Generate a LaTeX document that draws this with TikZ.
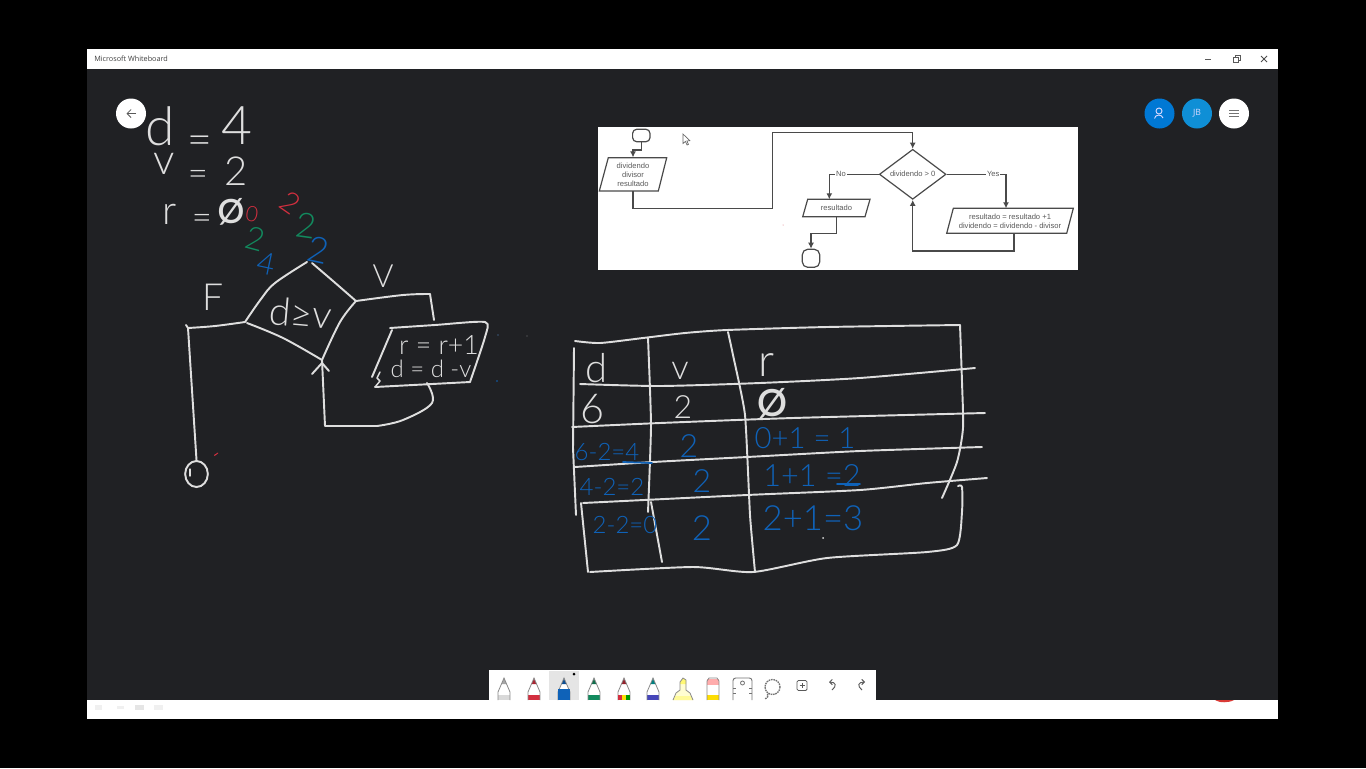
\documentclass[tikz,border=0pt]{standalone}
\usepackage{fontspec}
\setmainfont{Liberation Sans}
\newfontfamily\handfont{Lato Light}
\newfontfamily\uifont{Open Sans}
\usetikzlibrary{shapes.geometric,arrows.meta}
\definecolor{board}{HTML}{202124}
\definecolor{chalk}{HTML}{DEDEDE}
\definecolor{inkblue}{HTML}{0F62B8}
\definecolor{inkgreen}{HTML}{128A5E}
\definecolor{inkred}{HTML}{D32F3F}
\definecolor{flowline}{HTML}{4A4A4A}
\definecolor{flowtext}{HTML}{5A5A5A}
\definecolor{penedge}{HTML}{8A8A8A}
\definecolor{btnblue}{HTML}{0078D4}
\definecolor{btnjb}{HTML}{0F8FD6}
\tikzset{
  hand/.style={font=\handfont\fontsize{#1}{#1}\selectfont,text=chalk,inner sep=0pt},
  handb/.style={hand=#1,text=inkblue},
  handg/.style={hand=#1,text=inkgreen},
  handr/.style={hand=#1,text=inkred},
  stroke/.style={draw=chalk,line width=1.45pt,line cap=round,line join=round},
  bstroke/.style={draw=inkblue,line width=1.3pt,line cap=round},
  flow/.style={draw=flowline,line width=0.9pt},
  flowarrow/.style={flow,-{Latex[length=4.5pt,width=4.5pt]}},
  flowtxt/.style={font=\fontsize{5.7}{6.75}\selectfont,text=flowtext,align=center,inner sep=0pt},
  flowbox/.style={flowtxt,minimum height=#1},
  term/.style={draw=flowline,line width=0.9pt,rounded corners=3pt,fill=white},
  round btn/.style={circle,minimum size=22.5pt,inner sep=0pt,fill=#1},
  pen outline/.style={draw=penedge,line width=0.6pt},
}
\newcommand{\penicon}[3]{%
  \fill[white] (#1,678) -- (#1+3,684) -- (#1+6,694) -- (#1+6,700) -- (#1-6,700) -- (#1-6,694) -- (#1-3,684) -- cycle;
  \fill[#2] (#1,678) -- (#1+2.5,684) -- (#1-2.5,684) -- cycle;
  \fill[#3] (#1-6,695) rectangle (#1+6,700);
  \draw[pen outline] (#1-6,700) -- (#1-6,692) -- (#1,678) -- (#1+6,692) -- (#1+6,700);
}
\begin{document}
\begin{tikzpicture}[x=0.75pt,y=-0.75pt]
\useasboundingbox (0,0) rectangle (1366,768);
\fill[black] (0,0) rectangle (1366,768);
% window
\fill[board] (87,69) rectangle (1278,701);
\fill[white] (87,49) rectangle (1278,69);
\fill[white] (87,700) rectangle (1278,719);
\node[anchor=west,inner sep=0pt,font=\uifont\fontsize{5.45}{7}\selectfont,text=black!75] (title) at (94,59) {Microsoft Whiteboard};
\draw[black!65,line width=0.6pt] (1205,59.5) -- (1211,59.5);
\draw[black!65,line width=0.6pt] (1233.5,57) rectangle (1238.5,62);
\draw[black!65,line width=0.6pt] (1235,57) -- (1235,55.5) -- (1240,55.5) -- (1240,60.5) -- (1238.5,60.5);
\draw[black!70,line width=0.7pt] (1261,56) -- (1267,62) (1267,56) -- (1261,62);
% buttons
\node[round btn=white] (back) at (131,113.5) {};
\draw[black!65,line width=0.6pt,-{Straight Barb[length=3pt,width=6pt]}] (136,113.5) -- (126.5,113.5);
\node[round btn=btnblue] (person) at (1159.5,113.5) {};
\node[round btn=btnjb,font=\uifont\fontsize{6.5}{7}\selectfont,text=white!85!blue] (jb) at (1197,113.5) {JB};
\node[round btn=white] (menu) at (1234,113.5) {};
\draw[white!85!blue,line width=0.7pt] (1159,111) circle[radius=3];
\draw[white!85!blue,line width=0.7pt] (1154.5,118.5) .. controls (1155,114) and (1162,114) .. (1163,118);
\draw[black!55,line width=0.65pt] (1229,110.5) -- (1239,110.5) (1229,113.5) -- (1239,113.5) (1229,116.5) -- (1239,116.5);
% inset flowchart
\fill[white] (598,127) rectangle (1078,269.5);
\node[term,minimum width=13pt,minimum height=9.3pt,inner sep=0pt] (start) at (641.3,135.5) {};
\node[flowbox=25pt,minimum width=40pt] (input) at (633,174.3) {dividendo\\divisor\\resultado};
\draw[flow] (608.3,157.7) -- (666.7,157.7) -- (658.3,191) -- (599.3,191) -- cycle;
\node[draw=flowline,line width=0.9pt,diamond,aspect=1.34,minimum width=50pt,minimum height=37.5pt,inner sep=0pt] (test) at (912.7,174.3) {};
\node[flowtxt] (testlabel) at (912.7,174) {dividendo > 0};
\node[flowbox=13pt,minimum width=42pt] (out) at (836.5,208) {resultado};
\draw[flow] (807.7,199.3) -- (870,199.3) -- (865,216.7) -- (802.7,216.7) -- cycle;
\node[flowbox=18.7pt,minimum width=85pt] (calc) at (1010,220.8) {resultado = resultado +1\\dividendo = dividendo - divisor};
\draw[flow] (953.3,208.3) -- (1073.3,208.3) -- (1066.7,233.3) -- (946.7,233.3) -- cycle;
\node[term,minimum width=13pt,minimum height=13.5pt,inner sep=0pt,rounded corners=4pt] (stop) at (811,258.3) {};
\draw[flowarrow] (start.south) -- ++(0,7.6) -| (input.north);
\draw[flowarrow] (input.south) -- (633,208.3) -- (772.7,208.3) -- (772.7,132.3) -| (test.north);
\draw[flowarrow] (test.west) -- (829.3,174.3) -- (829.3,199.3);
\draw[flowarrow] (test.east) -- (1006,174.3) -- (1006,208.3);
\draw[flowarrow] ([xshift=3pt]calc.south) -- ++(0,17.4) -| (test.south);
\draw[flowarrow] (out.south) -- (836.5,233.3) -- (811,233.3) -- (stop.north);
\node[flowtxt,fill=white,inner xsep=0.6pt] (nolabel) at (841,174.3) {No};
\node[flowtxt,fill=white,inner xsep=0.6pt] (yeslabel) at (993.3,174.3) {Yes};
\fill[inkred!70] (783,225) circle[radius=0.5];
% mouse cursor
\draw[black!60,fill=white,line width=0.5pt] (683,134) -- (683,143.5) -- (685.4,141.4) -- (687,145) -- (688.4,144.3) -- (686.9,141) -- (689.8,140.7) -- cycle;
% handwritten values
\node[hand=40] (hd) at (160,126) {d};
\node[hand=32] (heq1) at (200,145) {=};
\node[hand=40] (h4) at (237,126) {4};
\node[hand=32] (hv) at (164,164) {v};
\node[hand=26] (heq2) at (198,178) {=};
\node[hand=30] (h2) at (236,171) {2};
\node[hand=30] (hr) at (170,214) {r};
\node[hand=26] (heq3) at (202,222) {=};
\node[hand=25,font=\handfont\bfseries\fontsize{25}{25}\selectfont] (hz) at (231,212) {Ø};
\node[handr=16,rotate=-10] (r0) at (252,214) {0};
\node[handr=22,rotate=-35] (r2) at (290,203) {2};
\node[handg=26,rotate=-8] (g2r) at (306,226) {2};
\node[handb=27,rotate=-12] (b2r) at (318,250) {2};
\node[handg=24,rotate=-15] (g2l) at (255,239) {2};
\node[handb=23,rotate=-12] (b4) at (266,264) {4};
\node[hand=28] (hF) at (213,297) {F};
\node[hand=24] (hV) at (383,276) {V};
% handwritten flowchart
\coordinate (dt) at (307,262);
\coordinate (dl) at (245,322);
\coordinate (dr) at (356,301);
\coordinate (db) at (322,360);
\node[hand=29,rotate=-5] (dlabel) at (301,313) {d≥v};
\draw[stroke] plot[smooth,tension=.6] coordinates {(dt) (275,283) (261,299) (dl)};
\draw[stroke] plot[smooth,tension=.6] coordinates {(312,263) (333,281) (dr)};
\draw[stroke] plot[smooth,tension=.6] coordinates {(dr) (340,322) (db)};
\draw[stroke] plot[smooth,tension=.6] coordinates {(db) (283,338) (247,323)};
\node[draw=chalk,line width=1.45pt,ellipse,minimum width=17pt,minimum height=19.5pt,inner sep=0pt] (endc) at (196.5,474) {};
\coordinate (flcorner) at (188,328);
\draw[stroke] plot[smooth,tension=.6] coordinates {(dl) (215,326) (flcorner)};
\draw[stroke] (186,325) -- (flcorner) -- (endc.north);
\draw[stroke,line width=1pt] (190,469) -- (190,476);
\fill[inkred] (214,455) -- (218,452.5) -- (218,453.5) -- (214.6,456) -- cycle;
\node[hand=20] (calc1) at (439,345) {r = r+1};
\node[hand=18] (calc2) at (431,369) {d = d -v};
\coordinate (pt) at (434,320);
\draw[stroke] plot[smooth,tension=.6] coordinates {(dr) (403,295) (430,294)};
\draw[stroke] (430,294) -- (pt);
\draw[stroke] plot[smooth,tension=.4] coordinates {(390,328) (435,325) (485,322) (485,337) (470,382)};
\draw[stroke] (470,382) -- (375,387);
\draw[stroke] (392,330) -- (372,377);
\draw[stroke,line width=1.1pt] (380,372) -- (377,378) -- (380,381) -- (375,387);
\coordinate (pb) at (427,383);
\draw[stroke] plot[smooth,tension=.6] coordinates {(pb) (432,403) (403,420) (377,426)};
\draw[stroke] (377,426) -- (325,426) -- (db);
\draw[stroke] (312,374) -- (322,363) -- (329,371);
\fill[inkblue] (497,381) circle[radius=0.8];
\fill[inkblue!70!white] (498,335) circle[radius=0.6];
\fill[white!40!board] (527,336) circle[radius=0.6];
% table
\draw[stroke] plot[smooth,tension=.4] coordinates {(575,341) (600,343) (643,338) (685,333) (727,330) (827,327) (960,325)};
\draw[stroke] plot[smooth,tension=.4] coordinates {(960,325) (962,382) (963,428) (957,462) (942,498)};
\draw[stroke] plot[smooth,tension=.3] coordinates {(648,338) (651,425) (648,512)};
\draw[stroke] (651,502) -- (662,562);
\draw[stroke] plot[smooth,tension=.3] coordinates {(728,332) (733,355) (745,415) (750,515) (755,572)};
\draw[stroke] (574,348) -- (573,448) -- (576,515);
\draw[stroke] plot[smooth,tension=.4] coordinates {(580,384) (660,386) (760,383) (860,378) (975,368)};
\draw[stroke] plot[smooth,tension=.4] coordinates {(572,427) (660,423) (793,418) (985,413)};
\draw[stroke] plot[smooth,tension=.4] coordinates {(575,467) (653,462) (747,457) (860,451) (982,447)};
\draw[stroke] plot[smooth,tension=.4] coordinates {(583,503) (747,495) (860,490) (927,483) (987,478)};
\draw[stroke] (581,503) -- (588,572);
\draw[stroke] plot[smooth,tension=.4] coordinates {(590,572) (693,567) (753,572) (827,558) (927,552) (957,545) (962,512) (962,487) (958,486)};
\node[hand=30] (td) at (597,368) {d};
\node[hand=26] (tv) at (680,371) {v};
\node[hand=34] (tr) at (767,365) {r};
\node[hand=31] (t6) at (592,409) {6};
\node[hand=24] (t2) at (683,407) {2};
\node[hand=28,font=\handfont\bfseries\fontsize{28}{28}\selectfont] (tz) at (773,403) {Ø};
\node[handb=18] (a1) at (607,452) {6-2=4};
\node[handb=24] (b1) at (689,446) {2};
\node[handb=22] (c1) at (805,438) {0+1 = 1};
\node[handb=18] (a2) at (612,487) {4-2=2};
\node[handb=24] (b2) at (702,481) {2};
\node[handb=23] (c2) at (812,476) {1+1 =2};
\node[handb=18] (a3) at (625,525) {2-2=0};
\node[handb=26] (b3) at (702,528) {2};
\node[handb=26] (c3) at (813,518) {2+1=3};
\draw[bstroke] (623,462) -- (652,463);
\draw[bstroke] (837,484) -- (860,484);
\fill[chalk] (823,538) circle[radius=1];
% toolbar
\fill[white] (489,670) rectangle (876,700);
\fill[black!10] (549,671) rectangle (579,700);
\fill[black] (574,674) circle[radius=1.5];
\penicon{504}{black!35}{black!15}
\penicon{534}{inkred!80!black}{inkred}
\penicon{564}{inkblue!80!black}{inkblue}
\fill[inkblue] (558,689) rectangle (570,700);
\penicon{594}{inkgreen!80!black}{inkgreen}
\penicon{624}{inkred!70!black}{orange!80!red}
\fill[inkred] (618,695) rectangle (622,700);
\fill[yellow!80!orange] (622,695) rectangle (626,700);
\fill[green!60!black] (626,695) rectangle (630,700);
\penicon{653}{teal}{blue!45!gray}
% highlighter
\fill[yellow!18] (673,700) -- (676,693) -- (680,690) -- (680,682) -- (683,678) -- (686,680) -- (686,690) -- (690,693) -- (693,700) -- cycle;
\fill[yellow!40] (673,700) -- (675,696) -- (691,696) -- (693,700) -- cycle;
\fill[yellow!55] (680,682) -- (683,678) -- (686,680) -- (686,684) -- (680,684) -- cycle;
\draw[pen outline] (673,700) -- (676,693) -- (680,690) -- (680,682) -- (683,678) -- (686,680) -- (686,690) -- (690,693) -- (693,700);
% eraser
\fill[pink!90!red] (707,679) rectangle (719,685);
\fill[white] (707,685) rectangle (719,695);
\fill[yellow!80!orange] (707,695) rectangle (719,700);
\draw[pen outline] (707,700) -- (707,681) -- (709,678) -- (717,678) -- (719,681) -- (719,700);
% ruler
\draw[black!55,line width=0.7pt,rounded corners=2pt] (733,700) -- (733,678) -- (752,678) -- (752,700);
\draw[black!55,line width=0.6pt] (742.5,683) circle[radius=2];
\draw[black!55,line width=0.6pt] (733,688) -- (736,688) (733,693) -- (736,693) (752,688) -- (749,688) (752,693) -- (749,693);
% lasso
\draw[black!55,line width=1pt,dash pattern=on 1.2pt off 0.6pt] (772.5,687) circle[radius=7.5];
\draw[black!55,line width=1pt,dash pattern=on 1.2pt off 0.6pt] (768,694) .. controls (765,697) and (771,695) .. (765,699);
% add
\draw[black!65,line width=0.6pt,rounded corners=1pt] (797,680.5) rectangle (807,690.5);
\draw[black!65,line width=0.6pt] (799.5,685.5) -- (804.5,685.5) (802,683) -- (802,688);
% undo / redo
\draw[black!65,line width=0.7pt,-{Straight Barb[length=2pt,width=4pt]}] (832,690) .. controls (837,686) and (836,682) .. (829,682);
\draw[black!65,line width=0.7pt,-{Straight Barb[length=2pt,width=4pt]}] (862,690) .. controls (857,686) and (858,682) .. (865,682);
% bottom bar marks
\fill[black!6] (95,705) rectangle (102,710);
\fill[black!6] (117,706) rectangle (124,709);
\fill[black!10] (135,705) rectangle (144,710);
\fill[black!6] (154,705) rectangle (163,710);
\fill[inkred!85!orange] (1215,700) .. controls (1219,703) and (1229,703) .. (1234,700) -- cycle;
\end{tikzpicture}
\end{document}
